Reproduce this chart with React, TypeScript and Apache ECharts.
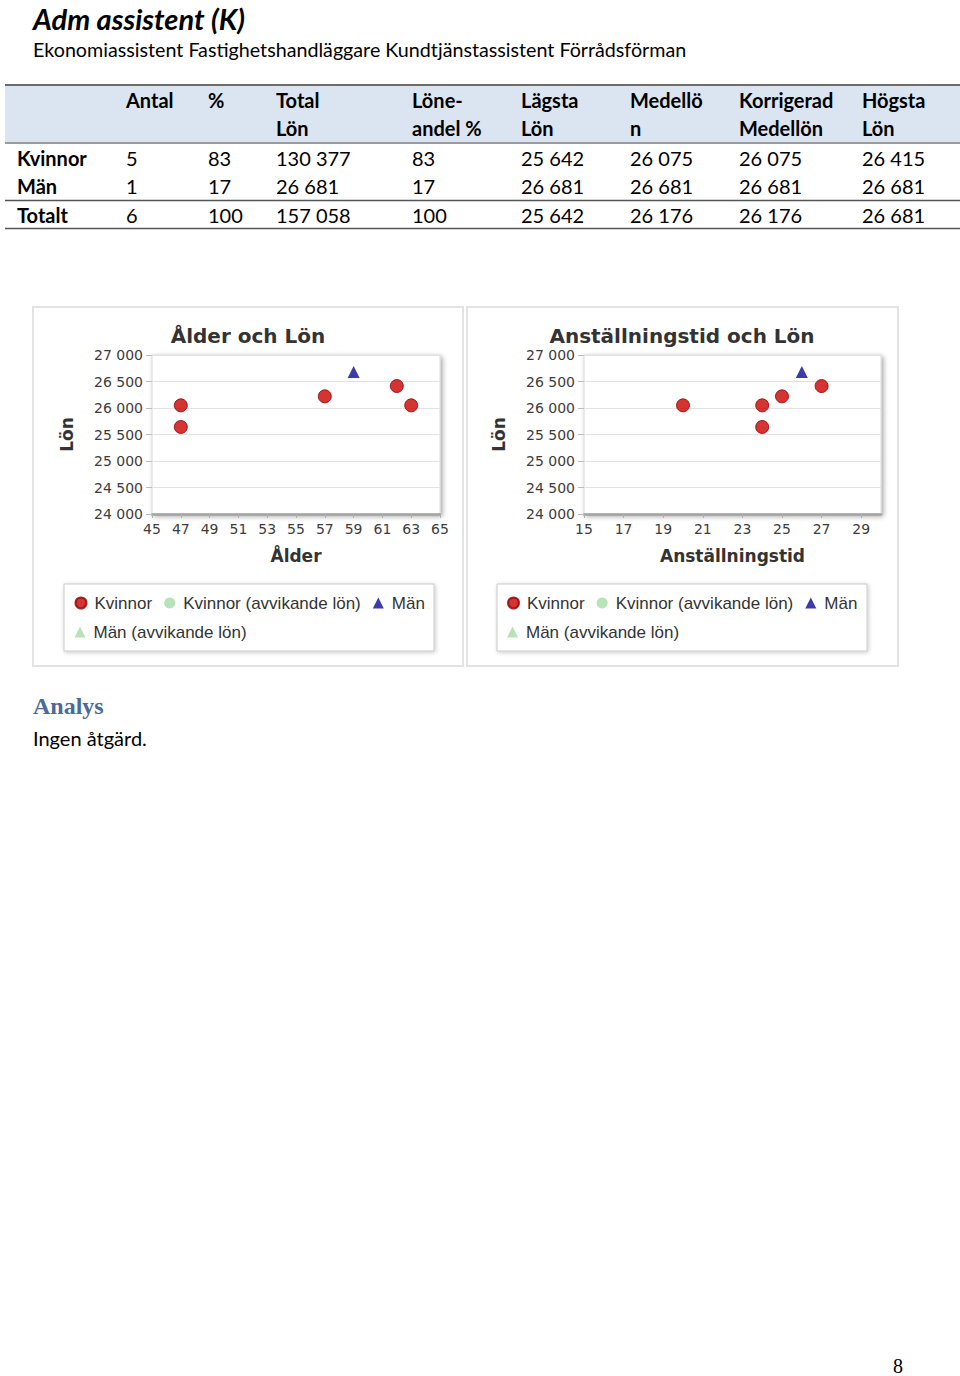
import React, { useEffect, useRef } from 'react';
import * as echarts from 'echarts';

// ---------- texts ----------
const pageTitle = 'Adm assistent (K)';
const pageSubtitle = 'Ekonomiassistent Fastighetshandläggare Kundtjänstassistent Förrådsförman';
const analysisHeading = 'Analys';
const analysisText = 'Ingen åtgärd.';
const pageNumber = '8';

// ---------- table ----------
const headerLine1 = ['', 'Antal', '%', 'Total', 'Löne-', 'Lägsta', 'Medellö', 'Korrigerad', 'Högsta'];
const headerLine2 = ['', '', '', 'Lön', 'andel %', 'Lön', 'n', 'Medellön', 'Lön'];
const rowLabels = ['Kvinnor', 'Män', 'Totalt'];
const antal = [5, 1, 6];
const andel = [83, 17, 100];
const totalLon = [130377, 26681, 157058];
const loneandel = [83, 17, 100];
const lagstaLon = [25642, 26681, 25642];
const medellon = [26075, 26681, 26176];
const korrigeradMedellon = [26075, 26681, 26176];
const hogstaLon = [26415, 26681, 26681];

// ---------- charts ----------
const chartTitles = ['Ålder och Lön', 'Anställningstid och Lön'];
const xAxisNames = ['Ålder', 'Anställningstid'];
const yAxisName = 'Lön';
const seriesNames = ['Kvinnor', 'Kvinnor (avvikande lön)', 'Män', 'Män (avvikande lön)'];

// [ålder, lön]
const kvinnorAlder = [[47, 26050], [47, 25642], [57, 26220], [62, 26415], [63, 26050]];
const kvinnorAlderAvv: number[][] = [];
const manAlder = [[59, 26681]];
const manAlderAvv: number[][] = [];
// [anställningstid, lön]
const kvinnorTid = [[20, 26050], [24, 26050], [24, 25642], [25, 26220], [27, 26415]];
const kvinnorTidAvv: number[][] = [];
const manTid = [[26, 26681]];
const manTidAvv: number[][] = [];

const alderMin = 45, alderMax = 65, alderStep = 2;
const tidMin = 15, tidMax = 30, tidStep = 2;
const lonMin = 24000, lonMax = 27000, lonStep = 500;

const fmt = (n: number) => String(n).replace(/\B(?=(\d{3})+(?!\d))/g, ' ');

export default function App() {
  const ref = useRef<HTMLDivElement>(null);

  useEffect(() => {
    const chart = echarts.init(ref.current!, null, { renderer: 'svg' });

    const tableFont = 'Lato, "Liberation Sans", sans-serif';
    const chartFont = '"DejaVu Sans", Verdana, sans-serif';
    const legendFont = '"Liberation Sans", Arial, sans-serif';

    const colX = [17, 126, 208, 276, 412, 521, 630, 739, 862];
    const rowY = [158, 186, 215];
    const columns = [antal, andel, totalLon, loneandel, lagstaLon, medellon, korrigeradMedellon, hogstaLon];

    const g: any[] = [];
    const txt = (text: string, x: number, y: number, size: number, opts: any = {}) => ({
      type: 'text', x, y, z: 5,
      style: {
        text, fill: opts.fill || '#000', fontSize: size,
        fontFamily: opts.family || tableFont,
        fontWeight: opts.weight || 'normal',
        fontStyle: opts.style || 'normal',
        lineHeight: opts.lineHeight,
        verticalAlign: 'middle', align: opts.align || 'left',
      },
    });

    // page header
    g.push(txt(pageTitle, 33, 18.5, 29, { weight: 'bold', style: 'italic', lineHeight: 29 }));
    g.push(txt(pageSubtitle, 33, 49, 19.7));

    // table
    g.push({ type: 'rect', z: 1, shape: { x: 5, y: 86, width: 955, height: 56 }, style: { fill: '#dbe5f1' } });
    const hline = (y: number, w: number, c: string) => ({
      type: 'line', z: 2, shape: { x1: 5, y1: y, x2: 960, y2: y }, style: { stroke: c, lineWidth: w },
    });
    g.push(hline(85, 2, '#6b6b6b'));
    g.push(hline(143, 1.5, '#7a7a7a'));
    g.push(hline(200.5, 1.5, '#555'));
    g.push(hline(228.5, 1.5, '#555'));
    headerLine1.forEach((h, i) => { if (h) g.push(txt(h, colX[i], 100, 20, { weight: 'bold' })); });
    headerLine2.forEach((h, i) => { if (h) g.push(txt(h, colX[i], 128, 20, { weight: 'bold' })); });
    rowLabels.forEach((r, ri) => {
      g.push(txt(r, colX[0], rowY[ri], 20, { weight: 'bold' }));
      columns.forEach((col, ci) => g.push(txt(fmt(col[ri]), colX[ci + 1], rowY[ri], 20)));
    });

    // chart panels
    g.push({ type: 'rect', z: -10, shape: { x: 33, y: 307, width: 430, height: 359 }, style: { fill: '#fff', stroke: '#e3e3e3', lineWidth: 2 } });
    g.push({ type: 'rect', z: -10, shape: { x: 467, y: 307, width: 431, height: 359 }, style: { fill: '#fff', stroke: '#e3e3e3', lineWidth: 2 } });
    // legend boxes
    [64, 497].forEach((x) => g.push({
      type: 'rect', z: 1, shape: { x, y: 584, width: 370, height: 67 },
      style: { fill: '#fff', stroke: '#c9c9c9', lineWidth: 1, shadowBlur: 4, shadowColor: 'rgba(0,0,0,0.22)', shadowOffsetX: 1, shadowOffsetY: 1 },
    }));

    // analysis
    g.push(txt(analysisHeading, 33, 706, 24, { weight: 'bold', family: '"Liberation Serif", "DejaVu Serif", serif', fill: '#4a6a9b' }));
    g.push(txt(analysisText, 33, 738, 20));
    g.push(txt(pageNumber, 898, 1366, 20, { family: '"Liberation Serif", serif', align: 'center' }));

    const grids = [
      { left: 152, top: 355, width: 288, height: 159 },
      { left: 584, top: 355, width: 297, height: 159 },
    ];
    const xRanges = [[alderMin, alderMax, alderStep], [tidMin, tidMax, tidStep]];

    const xAxes = xRanges.map((r, i) => ({
      type: 'value', gridIndex: i, min: r[0], max: r[1], interval: r[2],
      name: xAxisNames[i], nameLocation: 'middle', nameGap: 33,
      nameTextStyle: { fontFamily: chartFont, fontWeight: 'bold', fontSize: 17, color: '#333' },
      axisLine: { show: true, lineStyle: { color: '#a3a3a3', width: 2.5 } },
      axisTick: { show: true, length: 4, lineStyle: { color: '#b0b0b0' } },
      axisLabel: { fontFamily: chartFont, fontSize: 14, color: '#3c3c3c', margin: 8, showMaxLabel: i === 0 },
      splitLine: { show: false },
    }));
    const yAxes = [0, 1].map((i) => ({
      type: 'value', gridIndex: i, min: lonMin, max: lonMax, interval: lonStep,
      name: yAxisName, nameLocation: 'middle', nameGap: 77,
      nameTextStyle: { fontFamily: chartFont, fontWeight: 'bold', fontSize: 17, color: '#333' },
      axisLine: { show: false },
      axisTick: { show: true, length: 6, lineStyle: { color: '#bbb' } },
      axisLabel: { fontFamily: chartFont, fontSize: 14, color: '#3c3c3c', margin: 9, formatter: (v: number) => fmt(v) },
      splitLine: { show: true, lineStyle: { color: '#e2e2e2' } },
    }));

    const red = { color: '#cc0000', borderColor: '#8f0000', borderWidth: 1 };
    const lightGreen = { color: '#a6dca6' };
    const navy = { color: '#0a0a96' };
    const datasets = [
      [kvinnorAlder, kvinnorAlderAvv, manAlder, manAlderAvv],
      [kvinnorTid, kvinnorTidAvv, manTid, manTidAvv],
    ];
    const styles = [red, lightGreen, navy, lightGreen];
    const symbols = ['circle', 'circle', 'triangle', 'triangle'];
    const sizes = [13, 13, 12, 12];
    const series: any[] = [];
    datasets.forEach((set, gi) => set.forEach((data, si) => series.push({
      type: 'scatter', name: seriesNames[si], xAxisIndex: gi, yAxisIndex: gi,
      data, symbol: symbols[si], symbolSize: sizes[si], itemStyle: styles[si],
    })));

    const legendBase = {
      orient: 'horizontal', padding: 0, itemGap: 12, itemWidth: 11, itemHeight: 11,
      selectedMode: false,
      textStyle: { fontFamily: legendFont, fontSize: 17, color: '#333', lineHeight: 20, padding: [0, 0, 0, 3] },
    };
    const legends: any[] = [];
    [74.5, 507].forEach((left) => {
      legends.push({ ...legendBase, left, top: 593, data: [
        { name: seriesNames[0], icon: 'circle' },
        { name: seriesNames[1], icon: 'circle' },
        { name: seriesNames[2], icon: 'triangle' },
      ] });
      legends.push({ ...legendBase, left, top: 622, data: [{ name: seriesNames[3], icon: 'triangle' }] });
    });

    chart.setOption({
      animation: false,
      backgroundColor: '#fff',
      title: chartTitles.map((t, i) => ({
        text: t, left: i === 0 ? 248 : 682, top: 326, textAlign: 'center', padding: 0,
        textStyle: { fontFamily: chartFont, fontWeight: 'bold', fontSize: 20, color: '#333' },
      })),
      grid: grids.map((gr) => ({
        ...gr, show: true, backgroundColor: '#fff', borderColor: '#d8d8d8', borderWidth: 1,
        shadowColor: 'rgba(0,0,0,0.35)', shadowBlur: 5, shadowOffsetX: 2, shadowOffsetY: 2,
        containLabel: false, outerBoundsMode: 'none',
      })),
      xAxis: xAxes,
      yAxis: yAxes,
      legend: legends,
      series,
      graphic: g,
    });

    return () => chart.dispose();
  }, []);

  return (
    <div
      ref={ref}
      style={{ position: 'absolute', left: 0, top: 0, width: 960, height: 1376, background: '#fff' }}
    />
  );
}
